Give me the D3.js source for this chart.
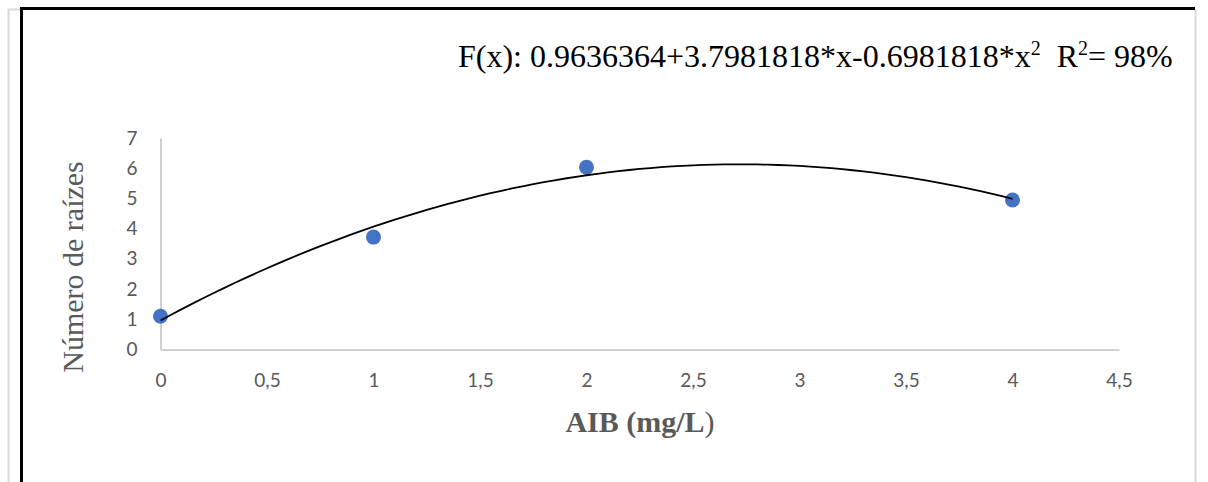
<!DOCTYPE html>
<html>
<head>
<meta charset="utf-8">
<script src="https://cdn.jsdelivr.net/npm/d3@7"></script>
<style>
  html, body { margin: 0; padding: 0; background: #fff; }
  svg { display: block; }
</style>
</head>
<body>
<div id="chart"></div>
<script>
// data
const doses = [0, 1, 2, 4];                 // AIB (mg/L)
const roots = [1.1, 3.72, 6.03, 4.95];      // Número de raízes
const fitCoef = [0.9636364, 3.7981818, -0.6981818]; // trend line a + b*x + c*x^2
const xTicks = [0, 0.5, 1, 1.5, 2, 2.5, 3, 3.5, 4, 4.5];
const yTicks = [0, 1, 2, 3, 4, 5, 6, 7];

const width = 1208, height = 482;

const svg = d3.select("#chart").append("svg")
    .attr("width", width)
    .attr("height", height);

// page frame: light grey sheet edges and black box
svg.append("line").attr("x1", 8.5).attr("x2", 8.5).attr("y1", 9).attr("y2", height)
    .attr("stroke", "#d9d9d9").attr("stroke-width", 2);
svg.append("line").attr("x1", 8).attr("x2", 22).attr("y1", 9.5).attr("y2", 9.5)
    .attr("stroke", "#d9d9d9").attr("stroke-width", 2);
svg.append("line").attr("x1", 1195.5).attr("x2", 1195.5).attr("y1", 9).attr("y2", height)
    .attr("stroke", "#d9d9d9").attr("stroke-width", 2);
svg.append("line").attr("x1", 21.5).attr("x2", 21.5).attr("y1", 7).attr("y2", height)
    .attr("stroke", "#000").attr("stroke-width", 3);
svg.append("line").attr("x1", 20).attr("x2", 1195).attr("y1", 8.5).attr("y2", 8.5)
    .attr("stroke", "#000").attr("stroke-width", 3);

// scales
const x = d3.scaleLinear().domain([0, 4.5]).range([160.5, 1119]);
const y = d3.scaleLinear().domain([0, 7]).range([349.5, 138]);

const fmt = d => String(d).replace(".", ",");
const tickFont = "Lato, 'Open Sans', sans-serif";

// y axis
const yAxis = svg.append("g")
    .attr("transform", `translate(${x(0)},0)`)
    .call(d3.axisLeft(y).tickValues(yTicks).tickSize(0).tickPadding(23).tickFormat(fmt));
yAxis.select(".domain").attr("stroke", "#d0d0d0").attr("stroke-width", 2);
yAxis.selectAll("text").attr("fill", "#595959").style("font-family", tickFont).style("font-size", "19px");

// x axis
const xAxis = svg.append("g")
    .attr("transform", `translate(0,${y(0)})`)
    .call(d3.axisBottom(x).tickValues(xTicks).tickSize(0).tickPadding(24).tickFormat(fmt));
xAxis.select(".domain").attr("stroke", "#d0d0d0").attr("stroke-width", 2);
xAxis.selectAll("text").attr("fill", "#595959").style("font-family", tickFont).style("font-size", "19px");

// data points
svg.append("g").selectAll("circle")
    .data(doses.map((d, i) => [d, roots[i]]))
    .join("circle")
    .attr("cx", d => x(d[0]))
    .attr("cy", d => y(d[1]))
    .attr("r", 7.5)
    .attr("fill", "#4472c4");

// polynomial trend line from the printed coefficients
const fit = v => fitCoef[0] + fitCoef[1] * v + fitCoef[2] * v * v;
const curveX = d3.range(0, 4.0001, 0.05);
svg.append("path")
    .datum(curveX)
    .attr("fill", "none")
    .attr("stroke", "#000")
    .attr("stroke-width", 1.8)
    .attr("d", d3.line().x(d => x(d)).y(d => y(fit(d))).curve(d3.curveMonotoneX));

// equation
const serif = "'Liberation Serif', 'Times New Roman', serif";
const eq = svg.append("text")
    .attr("x", 458).attr("y", 67)
    .attr("fill", "#000")
    .style("font-family", serif)
    .style("font-size", "32px");
eq.append("tspan").text("F(x): 0.9636364+3.7981818*x-0.6981818*x");
eq.append("tspan").attr("dy", -12).style("font-size", "20px").text("2");
eq.append("tspan").attr("dy", 12).text("\u00a0\u00a0R");
eq.append("tspan").attr("dy", -12).style("font-size", "20px").text("2");
eq.append("tspan").attr("dy", 12).text("= 98%");

// axis titles
const xt = svg.append("text")
    .attr("x", 640).attr("y", 432)
    .attr("text-anchor", "middle")
    .attr("fill", "#595959")
    .style("font-family", serif)
    .style("font-size", "30px");
xt.append("tspan").style("font-weight", "bold").text("AIB (mg/L");
xt.append("tspan").text(")");

svg.append("text")
    .attr("transform", "translate(83,267) rotate(-90)")
    .attr("text-anchor", "middle")
    .attr("fill", "#595959")
    .style("font-family", serif)
    .style("font-size", "30px")
    .text("Número de raízes");
</script>
</body>
</html>
